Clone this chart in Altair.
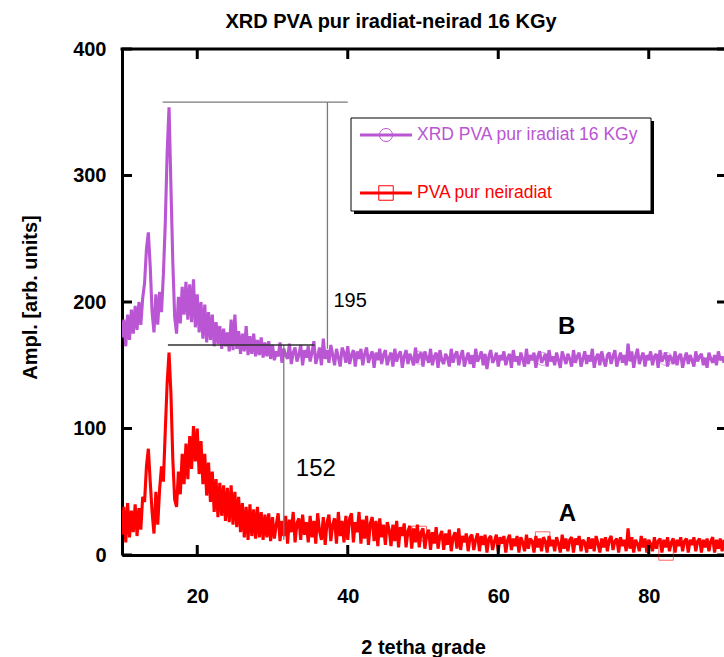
import altair as alt
import pandas as pd

# ---------------- data ----------------
TITLE = "XRD PVA pur iradiat-neirad 16 KGy"
X_TITLE = "2 tetha grade"
Y_TITLE = "Ampl. [arb. units]"
SERIES_NAMES = ["XRD PVA pur iradiat 16 KGy", "PVA pur neiradiat"]
X_TICKS = [20, 40, 60, 80]
Y_TICKS = [0, 100, 200, 300, 400]

# B: irradiated PVA (purple), 2θ = 10.00 ... 29.75, step 0.25
b_low = [172, 186, 165, 190, 170, 194, 175, 197, 178, 200,
         182, 203, 215, 242, 255, 228, 192, 176, 206, 182,
         208, 192, 222, 262, 318, 354, 292, 232, 188, 175,
         204, 183, 212, 190, 216, 186, 214, 184, 218, 180,
         206, 176, 200, 171, 198, 168, 192, 170, 190, 165,
         184, 167, 181, 163, 179, 165, 176, 161, 186, 162,
         190, 163, 177, 159, 175, 161, 181, 158, 173, 159,
         175, 157, 170, 158, 172, 156, 168, 157, 169, 155]
# B, 2θ = 30.00 ... 90.00, step 0.25
b_high = [166, 154, 161, 157, 168, 152, 163, 158, 155, 167, 151, 160, 164, 153, 158, 166, 150, 162, 156, 165,
          153, 160, 169, 151, 157, 164, 150, 171, 155, 162, 152, 166, 158, 150, 163, 156, 149, 164, 160, 152,
          165, 151, 158, 162, 149, 161, 155, 163, 150, 159, 164, 152, 157, 161, 148, 160, 154, 163, 151, 158,
          162, 150, 156, 160, 149, 163, 153, 158, 161, 148, 157, 162, 151, 159, 155, 150, 164, 152, 158, 160,
          149, 161, 156, 152, 163, 150, 157, 160, 148, 162, 154, 151, 159, 156, 149, 163, 152, 158, 161, 150,
          157, 162, 149, 155, 160, 151, 158, 148, 163, 153, 156, 161, 150, 159, 147, 157, 162, 152, 155, 160,
          149, 158, 154, 161, 150, 156, 159, 148, 162, 153, 157, 150, 160, 155, 149, 163, 151, 158, 154, 160,
          148, 157, 161, 152, 155, 159, 149, 162, 153, 157, 150, 160, 154, 148, 161, 156, 151, 159, 155, 149,
          162, 152, 157, 160, 149, 155, 161, 151, 158, 153, 163, 148, 156, 159, 150, 161, 154, 149, 158, 160,
          151, 157, 162, 149, 155, 160, 152, 158, 150, 167, 153, 161, 148, 157, 163, 151, 156, 160, 149, 158,
          154, 161, 150, 157, 159, 148, 162, 153, 156, 160, 149, 158, 155, 151, 161, 150, 157, 159, 148, 155,
          160, 151, 158, 154, 149, 161, 153, 157, 159, 150, 156, 148, 160, 155, 152, 158, 150, 161, 154, 157,
          152]

# A: non-irradiated PVA (red), 2θ = 10.00 ... 29.75, step 0.25
a_low = [16, 38, 10, 41, 14, 35, 18, 40, 15, 37,
         20, 46, 42, 70, 84, 58, 34, 17, 50, 24,
         52, 70, 58, 98, 136, 160, 128, 76, 44, 38,
         66, 48, 80, 56, 88, 60, 94, 68, 102, 74,
         100, 64, 90, 56, 80, 47, 73, 42, 66, 34,
         60, 30, 57, 31, 55, 27, 53, 26, 55, 24,
         50, 22, 46, 18, 41, 14, 38, 12, 40, 15,
         36, 13, 38, 14, 34, 12, 32, 14, 33, 11]
# A, 2θ = 30.00 ... 90.00, step 0.25
a_high = [30, 13, 24, 33, 11, 27, 15, 31, 9, 28, 18, 34, 10, 25, 29, 12, 32, 16, 26, 10,
          31, 14, 27, 9, 33, 19, 12, 30, 8, 26, 32, 11, 24, 29, 9, 34, 15, 27, 10, 31,
          12, 29, 33, 10, 26, 18, 34, 9, 28, 13, 31, 8, 25, 30, 11, 27, 7, 29, 14, 24,
          8, 26, 20, 7, 24, 11, 27, 6, 22, 15, 25, 6, 19, 23, 5, 21, 10, 24, 6, 18,
          21, 5, 16, 20, 4, 18, 9, 22, 5, 15, 19, 4, 17, 8, 20, 3, 14, 18, 5, 21,
          4, 15, 10, 17, 3, 14, 16, 4, 12, 17, 3, 15, 8, 16, 2, 13, 15, 4, 11, 16,
          3, 14, 9, 15, 2, 12, 16, 4, 13, 7, 15, 2, 14, 10, 3, 16, 5, 13, 11, 2,
          15, 6, 13, 3, 14, 11, 2, 15, 7, 12, 3, 14, 9, 2, 16, 5, 13, 3, 12, 14,
          2, 13, 8, 15, 3, 12, 10, 2, 14, 5, 13, 3, 15, 9, 2, 13, 6, 14, 3, 12,
          15, 4, 11, 13, 2, 14, 7, 12, 3, 21, 5, 14, 2, 12, 9, 3, 15, 6, 13, 2,
          12, 9, 3, 14, 5, 11, 13, 2, 12, 6, 14, 3, 10, 13, 2, 12, 7, 14, 3, 11,
          13, 2, 12, 8, 14, 3, 11, 13, 2, 12, 6, 13, 3, 11, 14, 2, 12, 5, 13, 3,
          12]

# sampling grids (2θ)
X_START_LOW, X_START_HIGH, X_STEP = 10.0, 30.0, 0.25

# visible series markers
marker_x = [49.5, 65.9, 82.3]
marker_b_y = [156, 155, 155]
marker_a_y = [17, 12.6, 1.6]

# annotation segments (grey) and dark segment
seg_x = [15.4, 37.3, 31.5]
seg_x2 = [40.0, 37.3, 31.5]
seg_y = [358, 163, 12]
seg_y2 = [358, 358, 166]
dark_seg_x = [16.1]
dark_seg_x2 = [35.6]
dark_seg_y = [166]

ann_small_text = ["195"]
ann_small_x = [38.1]
ann_small_y = [201]
ann_big_text = ["152"]
ann_big_x = [33.1]
ann_big_y = [68]

curve_labels = ["B", "A"]
curve_label_x = [69.1, 69.2]
curve_label_y = [180, 32.4]

# ---------------- styles ----------------
PURPLE = "#BA55D3"
RED = "#FF0000"
FONT = "Liberation Sans"
W, H = 602, 506
LW = 3.1


def grid(start, n):
    return [round(start + X_STEP * i, 2) for i in range(n)]


xs = alt.Scale(domain=[10, 90], nice=False, zero=False)
ys = alt.Scale(domain=[0, 400], nice=False, zero=False)

df_b = pd.DataFrame({"x": grid(X_START_LOW, len(b_low)) + grid(X_START_HIGH, len(b_high)),
                     "y": b_low + b_high})
df_a = pd.DataFrame({"x": grid(X_START_LOW, len(a_low)) + grid(X_START_HIGH, len(a_high)),
                     "y": a_low + a_high})

x_axis = alt.Axis(values=X_TICKS, domain=True, domainColor="black", domainWidth=3,
                  ticks=False, tickSize=0, grid=False, labelFont=FONT, labelFontSize=20,
                  labelFontWeight="bold", labelColor="black", labelPadding=31,
                  title=X_TITLE, titleFont=FONT, titleFontSize=20, titleFontWeight="bold",
                  titleColor="black", titleY=98, titleBaseline="alphabetic")
y_axis = alt.Axis(values=Y_TICKS, domain=True, domainColor="black", domainWidth=3,
                  ticks=False, tickSize=0, grid=False, labelFont=FONT, labelFontSize=20,
                  labelFontWeight="bold", labelColor="black", labelPadding=16,
                  title=Y_TITLE, titleFont=FONT, titleFontSize=20, titleFontWeight="bold",
                  titleColor="black", titleX=-86, titleY=248, titleBaseline="alphabetic")


def X(field="x"):
    return alt.X(f"{field}:Q", scale=xs, axis=x_axis, title=X_TITLE)


def Y(field="y"):
    return alt.Y(f"{field}:Q", scale=ys, axis=y_axis, title=Y_TITLE)


line_b = alt.Chart(df_b).mark_line(color=PURPLE, strokeWidth=LW, strokeJoin="bevel", clip=True).encode(
    x=X(), y=Y())
line_a = alt.Chart(df_a).mark_line(color=RED, strokeWidth=LW, strokeJoin="bevel", clip=True).encode(
    x=X(), y=Y())

mk_b = alt.Chart(pd.DataFrame({"x": marker_x, "y": marker_b_y})).mark_point(
    shape="circle", filled=False, size=170, color=PURPLE, strokeWidth=1, opacity=0.6
).encode(x=X(), y=Y())
mk_a = alt.Chart(pd.DataFrame({"x": marker_x, "y": marker_a_y})).mark_point(
    shape="square", filled=False, size=210, color=RED, strokeWidth=1, opacity=0.6
).encode(x=X(), y=Y())

segs = alt.Chart(pd.DataFrame({"x": seg_x, "x2": seg_x2, "y": seg_y, "y2": seg_y2})).mark_rule(
    color="#7a7a7a", strokeWidth=1.3
).encode(x=X(), x2="x2:Q", y=Y(), y2="y2:Q")
dsegs = alt.Chart(pd.DataFrame({"x": dark_seg_x, "x2": dark_seg_x2, "y": dark_seg_y})).mark_rule(
    color="#303030", strokeWidth=1.3
).encode(x=X(), x2="x2:Q", y=Y())

t_small = alt.Chart(pd.DataFrame({"t": ann_small_text, "x": ann_small_x, "y": ann_small_y})).mark_text(
    align="left", baseline="middle", font=FONT, fontSize=20, color="black"
).encode(x=X(), y=Y(), text="t:N")
t_big = alt.Chart(pd.DataFrame({"t": ann_big_text, "x": ann_big_x, "y": ann_big_y})).mark_text(
    align="left", baseline="middle", font=FONT, fontSize=24, color="black"
).encode(x=X(), y=Y(), text="t:N")
t_curves = alt.Chart(pd.DataFrame({"t": curve_labels, "x": curve_label_x, "y": curve_label_y})).mark_text(
    align="center", baseline="middle", font=FONT, fontSize=24, fontWeight="bold", color="black"
).encode(x=X(), y=Y(), text="t:N")

# frame top edge and inward ticks
top_edge = alt.Chart(pd.DataFrame({"t": [TITLE]})).mark_rule(color="black", strokeWidth=3).encode(
    x=alt.value(-1.5), x2=alt.value(W), y=alt.value(0))
xt = pd.DataFrame({"x": X_TICKS})
yt = pd.DataFrame({"y": Y_TICKS})
ticks_bottom = alt.Chart(xt).mark_rule(color="black", strokeWidth=3).encode(
    x=X(), y=alt.value(H), y2=alt.value(H - 10))
ticks_top = alt.Chart(xt).mark_rule(color="black", strokeWidth=3).encode(
    x=X(), y=alt.value(0), y2=alt.value(10))
ticks_left = alt.Chart(yt).mark_rule(color="black", strokeWidth=3).encode(
    y=Y(), x=alt.value(0), x2=alt.value(10))
ticks_right = alt.Chart(yt).mark_rule(color="black", strokeWidth=3).encode(
    y=Y(), x=alt.value(W - 7), x2=alt.value(W))

# legend box (drawn)
lg_data = pd.DataFrame({"t": SERIES_NAMES})
lg_shadow = alt.Chart(lg_data.head(1)).mark_rect(color="black").encode(
    x=alt.value(232), x2=alt.value(532), y=alt.value(72), y2=alt.value(165))
lg_box = alt.Chart(lg_data.head(1)).mark_rect(fill="white", stroke="black", strokeWidth=1).encode(
    x=alt.value(229), x2=alt.value(529), y=alt.value(69), y2=alt.value(162))
lg_items = []
for name, col, yy, shp, sz in [(SERIES_NAMES[0], PURPLE, 86, "circle", 170),
                               (SERIES_NAMES[1], RED, 144, "square", 210)]:
    one = pd.DataFrame({"t": [name]})
    lg_items.append(alt.Chart(one).mark_rule(color=col, strokeWidth=3).encode(
        x=alt.value(238), x2=alt.value(290), y=alt.value(yy)))
    lg_items.append(alt.Chart(one).mark_point(shape=shp, filled=False, size=sz, color=col,
                                              strokeWidth=1, opacity=1).encode(
        x=alt.value(264), y=alt.value(yy)))
    lg_items.append(alt.Chart(one).mark_text(align="left", baseline="middle", font=FONT,
                                             fontSize=17.5, color=col).encode(
        x=alt.value(295), y=alt.value(yy), text="t:N"))

title_txt = alt.Chart(pd.DataFrame({"t": [TITLE]})).mark_text(
    align="center", baseline="middle", font=FONT, fontSize=20, fontWeight="bold", color="black"
).encode(x=alt.value(269), y=alt.value(-27), text="t:N")

chart = alt.layer(
    line_b, line_a, mk_b, mk_a, segs, dsegs, t_small, t_big, t_curves,
    top_edge, ticks_bottom, ticks_top, ticks_left, ticks_right,
    lg_shadow, lg_box, *lg_items, title_txt
).properties(
    width=W, height=H,
    padding={"left": 122, "top": 49, "right": 0, "bottom": 102},
    autosize=alt.AutoSizeParams(type="none"),
    background="white",
).configure_view(stroke=None)

chart.save("out.html", embed_options={"renderer": "svg", "actions": False})
